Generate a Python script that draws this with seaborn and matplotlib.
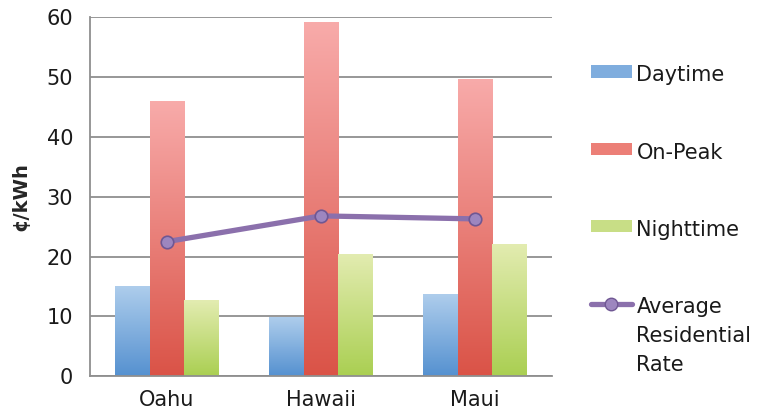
import numpy as np
import pandas as pd
import matplotlib
matplotlib.use("Agg")
import matplotlib.pyplot as plt
from matplotlib.colors import LinearSegmentedColormap, to_hex
from matplotlib.patches import Patch
from matplotlib.lines import Line2D
import seaborn as sns

# values (cents per kWh)
islands = ["Oahu", "Hawaii", "Maui"]
series_names = ["Daytime", "On-Peak", "Nighttime"]
daytime = [15.0, 9.8, 13.7]
on_peak = [46.0, 59.2, 49.7]
nighttime = [12.7, 20.5, 22.1]
avg_rate = [22.5, 26.8, 26.3]
avg_label = "Average\nResidential\nRate"

# (bottom, top) of each bar gradient, plus a flat colour for the legend
grad_colors = {
    "Daytime": ("#5591d0", "#aecdec"),
    "On-Peak": ("#da5347", "#f8abaa"),
    "Nighttime": ("#aacf52", "#e3ecb1"),
}
flat_colors = {"Daytime": "#7fadde", "On-Peak": "#ec7f77", "Nighttime": "#c8de86"}
line_color = "#8b70ac"
grid_color = "#8f8f8f"

df = pd.DataFrame({
    "island": islands * 3,
    "series": np.repeat(series_names, len(islands)),
    "value": daytime + on_peak + nighttime,
})

sns.set_style("white")
plt.rcParams["font.family"] = ["DejaVu Sans"]
plt.rcParams["font.size"] = 15
plt.rcParams["text.color"] = "#1a1a1a"
plt.rcParams["xtick.labelcolor"] = "#1a1a1a"
plt.rcParams["ytick.labelcolor"] = "#1a1a1a"

fig = plt.figure(figsize=(7.59, 4.16), dpi=100)
ax = fig.add_axes([0.1186, 0.096, 0.6086, 0.862])

palette = [flat_colors[s] for s in series_names]
sns.barplot(data=df, x="island", y="value", hue="series", order=islands,
            hue_order=series_names, palette=palette, width=0.675,
            saturation=1, errorbar=None, legend=False, ax=ax)

# vertical gradient on every bar, clipped to the bar itself
color_to_series = {to_hex(flat_colors[s]): s for s in series_names}
for patch in list(ax.patches):
    name = color_to_series.get(to_hex(patch.get_facecolor()))
    if name is None:
        continue
    x0, y0, x1, y1 = patch.get_bbox().extents
    cmap = LinearSegmentedColormap.from_list(name, list(grad_colors[name]))
    img = ax.imshow(np.linspace(0, 1, 256).reshape(-1, 1), extent=[x0, x1, y0, y1],
                    origin="lower", aspect="auto", cmap=cmap, zorder=2)
    img.set_clip_path(patch)
    patch.set_edgecolor("none")

sns.pointplot(x=islands, y=avg_rate, order=islands, color=line_color,
              errorbar=None, ax=ax)
for ln in ax.lines:
    ln.set_linewidth(3.8)
    ln.set_marker("o")
    ln.set_markersize(9)
    ln.set_markerfacecolor("#9d86bf")
    ln.set_markeredgecolor("#6f5793")
    ln.set_markeredgewidth(1.2)
    ln.set_zorder(10)
for coll in list(ax.collections):
    coll.remove()

ax.set_xlim(-0.5, 2.5)
ax.set_ylim(0, 60)
ax.set_yticks(range(0, 61, 10))
ax.set_xticks([-0.5, 0.5, 1.5, 2.5], minor=True)
ax.tick_params(axis="x", which="major", length=0, pad=10, labelsize=15)
ax.tick_params(axis="x", which="minor", length=6, width=1.3, color=grid_color, direction="out")
ax.tick_params(axis="y", length=6, width=1.3, color=grid_color, direction="out", pad=6, labelsize=15)

ax.yaxis.grid(True, color=grid_color, linewidth=1.3)
ax.set_axisbelow(True)
for side in ["top", "right"]:
    ax.spines[side].set_visible(False)
for side in ["left", "bottom"]:
    ax.spines[side].set_color(grid_color)
    ax.spines[side].set_linewidth(1.3)

ax.set_xlabel("")
ax.set_ylabel("¢/kWh", fontsize=14, fontweight="bold", labelpad=12)

handles = [Patch(facecolor=flat_colors[s], edgecolor="none") for s in series_names]
handles.append(Line2D([], [], color=line_color, lw=3.8, marker="o", markersize=9,
                      markerfacecolor="#9d86bf", markeredgecolor="#6f5793"))
leg = fig.legend(handles, series_names + [avg_label], loc="upper left",
                 bbox_to_anchor=(0.7535, 0.888), frameon=False, fontsize=15,
                 handlelength=2.0, handleheight=0.55, handletextpad=0.2,
                 labelspacing=2.75)
for t in leg.get_texts():
    t.set_linespacing(1.55)
# keep each handle level with the first line of its label
for column in leg._legend_handle_box.get_children():
    for item in column.get_children():
        item.align = "top"

fig.savefig("out.png", dpi=100)
